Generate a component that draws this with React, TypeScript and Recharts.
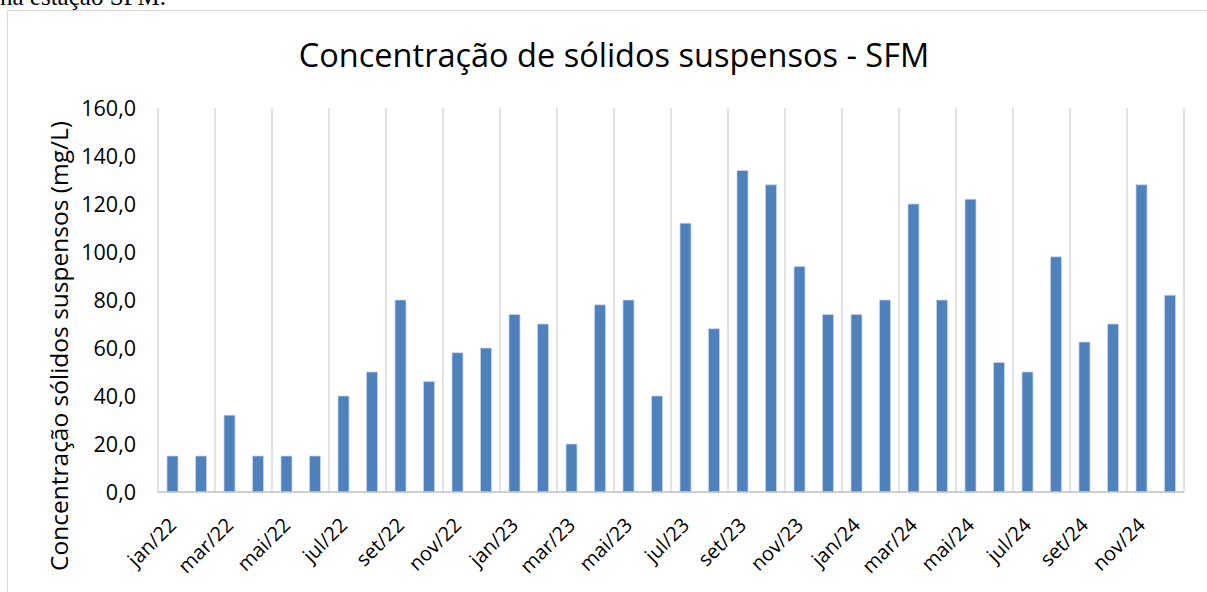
import React from 'react';
import { BarChart, Bar, XAxis, YAxis, CartesianGrid } from 'recharts';

const months = [
    'jan/22', 'fev/22', 'mar/22', 'abr/22', 'mai/22', 'jun/22',
    'jul/22', 'ago/22', 'set/22', 'out/22', 'nov/22', 'dez/22',
    'jan/23', 'fev/23', 'mar/23', 'abr/23', 'mai/23', 'jun/23',
    'jul/23', 'ago/23', 'set/23', 'out/23', 'nov/23', 'dez/23',
    'jan/24', 'fev/24', 'mar/24', 'abr/24', 'mai/24', 'jun/24',
    'jul/24', 'ago/24', 'set/24', 'out/24', 'nov/24', 'dez/24',
];

const solidos = [
    15, 15, 32, 15, 15, 15, 40, 50, 80, 46, 58, 60,
    74, 70, 20, 78, 80, 40, 112, 68, 134, 128, 94, 74,
    74, 80, 120, 80, 122, 54, 50, 98, 62.5, 70, 128, 82,
];

const yTicks = [0, 20, 40, 60, 80, 100, 120, 140, 160];

const data = months.map((m, i) => ({ mes: m, valor: solidos[i] }));

const font = '"Open Sans", sans-serif';

const fmt = (v: number) => v.toFixed(1).replace('.', ',');

// one vertical line every two months, on the category edges
const gridEvery2 = ({ offset }: any) => {
    const step = offset.width / months.length;
    const out: number[] = [];
    for (let k = 0; k <= months.length; k += 2) out.push(offset.left + k * step);
    return out;
};

const MonthTick = ({ x, y, payload }: any) => (
    <g transform={`translate(${x},${y})`}>
        <text
            transform="rotate(-45)"
            textAnchor="end"
            dominantBaseline="central"
            fontSize={20}
            fontFamily={font}
            fill="#000"
        >
            {payload.value}
        </text>
    </g>
);

const YTitle = ({ viewBox }: any) => {
    const x = viewBox.x - 2;
    const y = viewBox.y + viewBox.height / 2 + 46;
    return (
        <text
            x={x}
            y={y}
            transform={`rotate(-90, ${x}, ${y})`}
            textAnchor="middle"
            dominantBaseline="central"
            fontSize={24.5}
            fontFamily={font}
            fill="#000"
        >
            Concentração sólidos suspensos (mg/L)
        </text>
    );
};

export default function App() {
    return (
        <div style={{ position: 'absolute', left: 0, top: 0, width: 1207, height: 592, overflow: 'hidden', background: '#fff' }}>
            <div
                style={{
                    position: 'absolute',
                    left: 0,
                    top: -17,
                    fontFamily: '"Liberation Serif", "Times New Roman", serif',
                    fontSize: 25,
                    color: '#000',
                    whiteSpace: 'nowrap',
                }}
            >
                na estação SFM.
            </div>
            <div
                style={{
                    position: 'absolute',
                    left: 7,
                    top: 10,
                    width: 1210,
                    height: 600,
                    border: '1.5px solid #d9d9d9',
                }}
            />
            <div
                style={{
                    position: 'absolute',
                    left: 0,
                    top: 32,
                    width: 1228,
                    textAlign: 'center',
                    fontFamily: font,
                    fontSize: 32.5,
                    color: '#000',
                }}
            >
                Concentração de sólidos suspensos - SFM
            </div>
            <div style={{ position: 'absolute', left: 0, top: 0 }}>
                <BarChart
                    width={1207}
                    height={592}
                    data={data}
                    margin={{ top: 108, right: 23, left: 60, bottom: 0 }}
                    barSize={11}
                >
                    <CartesianGrid
                        horizontal={false}
                        stroke="#d9d9d9"
                        strokeWidth={1.5}
                        verticalCoordinatesGenerator={gridEvery2}
                    />
                    <XAxis
                        dataKey="mes"
                        interval={1}
                        tickLine={false}
                        tickSize={0}
                        axisLine={{ stroke: '#bfbfbf', strokeWidth: 1.5 }}
                        height={100}
                        tickMargin={29}
                        tick={<MonthTick />}
                    />
                    <YAxis
                        domain={[0, 160]}
                        ticks={yTicks}
                        tickFormatter={fmt}
                        axisLine={false}
                        tickLine={false}
                        tickSize={0}
                        width={98}
                        tickMargin={22}
                        tick={{ fontSize: 21.5, fill: '#000', fontFamily: font }}
                        label={<YTitle />}
                    />
                    <Bar
                        dataKey="valor"
                        fill="#4f81bd"
                        stroke="#c5d6ec"
                        strokeWidth={0.75}
                        isAnimationActive={false}
                    />
                </BarChart>
            </div>
        </div>
    );
}
